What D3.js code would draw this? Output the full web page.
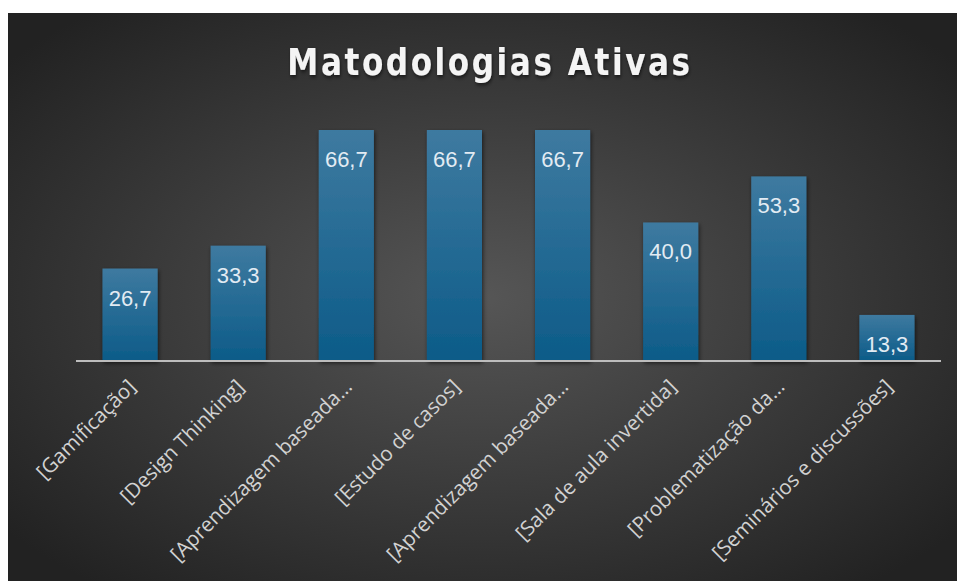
<!DOCTYPE html>
<html>
<head>
<meta charset="utf-8">
<script src="https://cdn.jsdelivr.net/npm/d3@7"></script>
<style>
  body { margin: 0; background: #fff; }
  svg { display: block; }
</style>
</head>
<body>
<div id="chart"></div>
<script>
const categories = [
  "[Gamificação]",
  "[Design Thinking]",
  "[Aprendizagem baseada...",
  "[Estudo de casos]",
  "[Aprendizagem baseada...",
  "[Sala de aula invertida]",
  "[Problematização da...",
  "[Seminários e discussões]"
];
const values = [26.7, 33.3, 66.7, 66.7, 66.7, 40.0, 53.3, 13.3];
const title = "Matodologias Ativas";

const W = 957, H = 581;
const margin = { top: 130, right: 16, bottom: 221, left: 76 };

const svg = d3.select("#chart").append("svg")
  .attr("width", W).attr("height", H);

const defs = svg.append("defs");
const bg = defs.append("radialGradient").attr("id", "bg")
  .attr("cx", "50%").attr("cy", "50%").attr("r", "65%");
bg.append("stop").attr("offset", "0%").attr("stop-color", "#565656");
bg.append("stop").attr("offset", "100%").attr("stop-color", "#222222");

const barGrad = defs.append("linearGradient").attr("id", "bar")
  .attr("x1", 0).attr("y1", 0).attr("x2", 0).attr("y2", 1);
barGrad.append("stop").attr("offset", "0%").attr("stop-color", "#3e7aa0");
barGrad.append("stop").attr("offset", "100%").attr("stop-color", "#0c5b88");

const shadow = defs.append("filter").attr("id", "shadow")
  .attr("x", "-20%").attr("y", "-20%").attr("width", "140%").attr("height", "140%");
shadow.append("feDropShadow").attr("dx", 1).attr("dy", 2)
  .attr("stdDeviation", 2).attr("flood-color", "#000").attr("flood-opacity", 0.6);

svg.append("rect").attr("x", 8).attr("y", 13)
  .attr("width", W - 8).attr("height", H - 13).attr("fill", "url(#bg)");

// condensed look for the title
svg.append("text")
  .attr("transform", "translate(490,75) scale(0.82,1)")
  .attr("text-anchor", "middle")
  .attr("fill", "#f4f4f4")
  .attr("filter", "url(#shadow)")
  .style("font-family", "'DejaVu Sans', sans-serif")
  .style("font-weight", "bold")
  .style("font-size", "38px")
  .style("letter-spacing", "3.1px")
  .text(title);

const x = d3.scaleBand()
  .domain(d3.range(categories.length))
  .range([margin.left, W - margin.right])
  .paddingInner(0.49).paddingOuter(0.245);

const y = d3.scaleLinear()
  .domain([0, 66.7])
  .range([H - margin.bottom + 1, margin.top]);

const g = svg.append("g");

g.selectAll("rect.bar")
  .data(values)
  .join("rect")
  .attr("class", "bar")
  .attr("x", (d, i) => x(i))
  .attr("y", d => y(d))
  .attr("width", x.bandwidth())
  .attr("height", d => y(0) - y(d))
  .attr("fill", "url(#bar)")
  .attr("filter", "url(#shadow)");

svg.append("line")
  .attr("x1", margin.left).attr("x2", W - margin.right)
  .attr("y1", y(0)).attr("y2", y(0))
  .attr("stroke", "#bdbdbd").attr("stroke-width", 2);

g.selectAll("text.val")
  .data(values)
  .join("text")
  .attr("class", "val")
  .attr("x", (d, i) => x(i) + x.bandwidth() / 2)
  .attr("y", d => y(d) + 37)
  .attr("text-anchor", "middle")
  .attr("fill", "#e2ebf3")
  .style("font-family", "'Liberation Sans', Arial, sans-serif")
  .style("font-size", "22px")
  .text(d => d3.format(".1f")(d).replace(".", ","));

g.selectAll("text.cat")
  .data(categories)
  .join("text")
  .attr("class", "cat")
  .attr("transform", (d, i) =>
    `translate(${x(i) + x.bandwidth() / 2 + 7},${y(0) + 27}) rotate(-45)`)
  .attr("text-anchor", "end")
  .attr("fill", "#d2d2d2")
  .style("font-family", "'Open Sans', 'Noto Sans', sans-serif")
  .style("font-size", "20.5px")
  .text(d => d);
</script>
</body>
</html>
